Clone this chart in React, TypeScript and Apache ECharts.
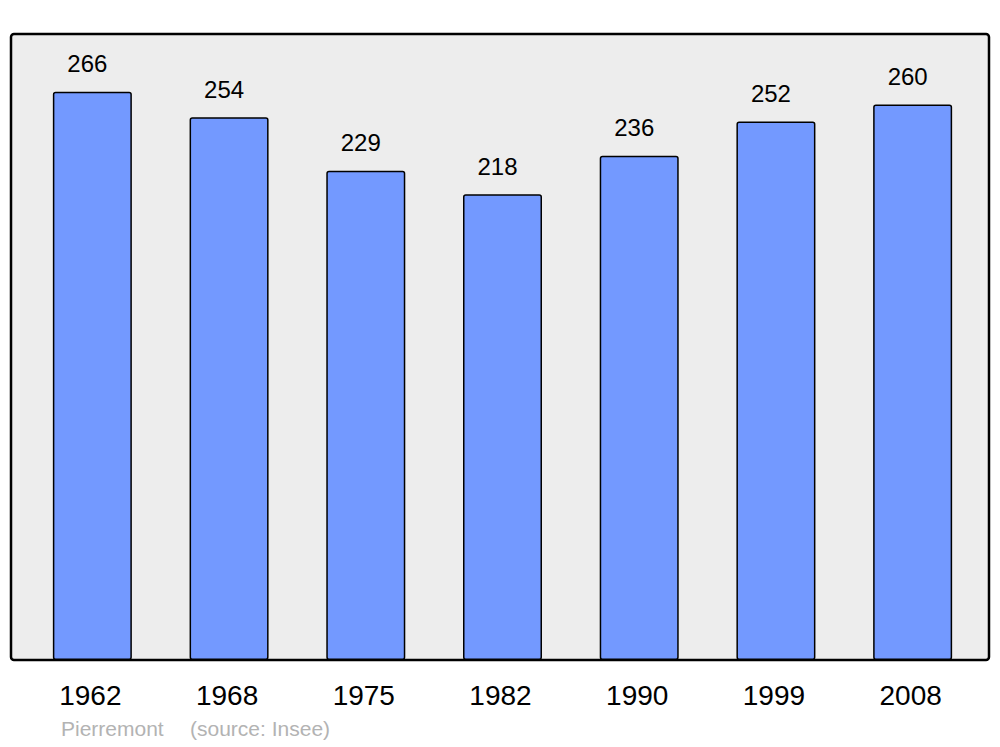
import React, { useEffect, useRef } from "react";
import * as echarts from "echarts";

const years = ["1962", "1968", "1975", "1982", "1990", "1999", "2008"];
const population = [266, 254, 229, 218, 236, 252, 260];
const townName = "Pierremont";
const sourceText = "(source: Insee)";

export default function App() {
  const ref = useRef<HTMLDivElement>(null);
  useEffect(() => {
    if (!ref.current) return;
    const chart = echarts.init(ref.current, undefined, { renderer: "svg" });
    chart.setOption({
      animation: false,
      backgroundColor: "#ffffff",
      textStyle: { fontFamily: "Liberation Sans, Arial, sans-serif" },
      grid: { left: 24, right: 19, top: 34, bottom: 87 },
      xAxis: {
        type: "category",
        data: years,
        axisLine: { show: false },
        axisTick: { show: false },
        axisLabel: {
          color: "#000",
          fontSize: 28,
          margin: 21,
          padding: [0, 4, 0, 0],
          fontFamily: "Liberation Sans, Arial, sans-serif",
        },
      },
      yAxis: {
        type: "value",
        min: 0,
        max: 293,
        show: false,
        splitLine: { show: false },
      },
      graphic: [
        {
          type: "rect",
          z: -10,
          silent: true,
          shape: { x: 11, y: 34, width: 978, height: 626, r: 3 },
          style: { fill: "#ededed", stroke: "#000", lineWidth: 2.5 },
        },
        {
          type: "text",
          left: 61,
          top: 718,
          style: {
            text: townName,
            fill: "#b3b3b3",
            fontSize: 21,
            fontFamily: "Liberation Sans, Arial, sans-serif",
          },
        },
        {
          type: "text",
          left: 190,
          top: 718,
          style: {
            text: sourceText,
            fill: "#b3b3b3",
            fontSize: 21,
            fontFamily: "Liberation Sans, Arial, sans-serif",
          },
        },
      ],
      series: [
        {
          type: "bar",
          data: population,
          barWidth: 79,
          itemStyle: {
            color: "#7399ff",
            borderColor: "#000",
            borderWidth: 1.5,
            borderRadius: 2,
          },
          label: {
            show: true,
            position: "top",
            distance: 16,
            offset: [-5, 0],
            color: "#000",
            fontSize: 24,
            fontFamily: "Liberation Sans, Arial, sans-serif",
          },
        },
      ],
    });
    return () => chart.dispose();
  }, []);
  return (
    <div
      ref={ref}
      style={{ position: "fixed", left: 0, top: 0, width: 1000, height: 747 }}
    />
  );
}
